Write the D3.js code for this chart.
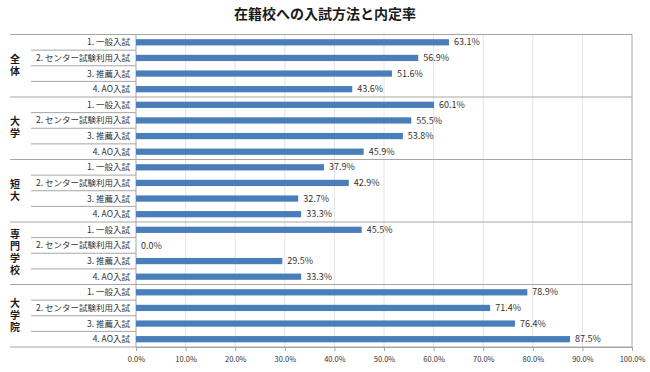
<!DOCTYPE html>
<html>
<head>
<meta charset="utf-8">
<script src="https://cdn.jsdelivr.net/npm/d3@7"></script>
<style>
  body { margin: 0; background: #fff; }
  svg text { font-family: "Noto Sans CJK JP", "Noto Sans", sans-serif; }
</style>
</head>
<body>
<div id="chart"></div>
<script>
// グループ（在籍校）と入試方法
const groups = ["全体", "大学", "短大", "専門学校", "大学院"];
const methods = ["1. 一般入試", "2. センター試験利用入試", "3. 推薦入試", "4. AO入試"];

// 内定率 (%)
const rateAll      = [63.1, 56.9, 51.6, 43.6];
const rateUniv     = [60.1, 55.5, 53.8, 45.9];
const rateJunior   = [37.9, 42.9, 32.7, 33.3];
const rateVocation = [45.5, 0.0, 29.5, 33.3];
const rateGrad     = [78.9, 71.4, 76.4, 87.5];

const xTicks = [0, 10, 20, 30, 40, 50, 60, 70, 80, 90, 100];

const seriesByGroup = [rateAll, rateUniv, rateJunior, rateVocation, rateGrad];

// 行データ
const rows = [];
groups.forEach((g, gi) => {
    methods.forEach((m, mi) => {
        rows.push({ key: g + "|" + m, group: g, method: m, value: seriesByGroup[gi][mi], gi: gi, mi: mi });
    });
});

const W = 650, H = 372;
const margin = { top: 34.5, right: 18, bottom: 25, left: 136 };
const width = W - margin.left - margin.right;
const height = H - margin.top - margin.bottom;

const svg = d3.select("#chart").append("svg")
    .attr("width", W)
    .attr("height", H);

// タイトル
svg.append("text")
    .attr("x", 325)
    .attr("y", 19)
    .attr("text-anchor", "middle")
    .attr("font-size", 14)
    .attr("font-weight", "bold")
    .attr("fill", "#1a1a1a")
    .text("在籍校への入試方法と内定率");

const g = svg.append("g")
    .attr("transform", "translate(" + margin.left + "," + margin.top + ")");

const x = d3.scaleLinear().domain([0, 100]).range([0, width]);
const y = d3.scaleBand()
    .domain(rows.map(d => d.key))
    .range([0, height])
    .paddingInner(0.6)
    .paddingOuter(0.3);
const step = y.step();

// グリッド線
g.selectAll(".grid")
    .data(xTicks.slice(1, -1))
    .join("line")
    .attr("class", "grid")
    .attr("x1", d => x(d)).attr("x2", d => x(d))
    .attr("y1", 0).attr("y2", height)
    .attr("stroke", "#e4e4e4")
    .attr("stroke-width", 1);

// グループ内の区切り線（ラベル領域）
g.selectAll(".subSep")
    .data(rows.filter(d => d.mi > 0))
    .join("line")
    .attr("class", "subSep")
    .attr("x1", 31 - margin.left).attr("x2", 0)
    .attr("y1", d => y(d.key) - (step - y.bandwidth()) / 2)
    .attr("y2", d => y(d.key) - (step - y.bandwidth()) / 2)
    .attr("stroke", "#a6a6a6");

// グループ境界線
const groupEdges = d3.range(groups.length + 1).map(i => i * 4 * step);
g.selectAll(".grpSep")
    .data(groupEdges)
    .join("line")
    .attr("class", "grpSep")
    .attr("x1", 10 - margin.left).attr("x2", width)
    .attr("y1", d => d).attr("y2", d => d)
    .attr("stroke", "#a6a6a6");

// 右枠・軸線
g.append("line")
    .attr("x1", width).attr("x2", width)
    .attr("y1", 0).attr("y2", height)
    .attr("stroke", "#a6a6a6");
g.append("line")
    .attr("x1", 0).attr("x2", 0)
    .attr("y1", 0).attr("y2", height)
    .attr("stroke", "#a6a6a6");

// 棒
g.selectAll(".bar")
    .data(rows)
    .join("rect")
    .attr("class", "bar")
    .attr("x", 0)
    .attr("y", d => y(d.key))
    .attr("width", d => x(d.value))
    .attr("height", y.bandwidth())
    .attr("fill", "#4a7ebb");

// 値ラベル
g.selectAll(".val")
    .data(rows)
    .join("text")
    .attr("class", "val")
    .attr("x", d => x(d.value) + 5)
    .attr("y", d => y(d.key) + y.bandwidth() / 2)
    .attr("dy", "0.35em")
    .attr("font-size", 9)
    .attr("fill", "#333")
    .text(d => d.value.toFixed(1) + "%");

// 入試方法ラベル
g.selectAll(".cat")
    .data(rows)
    .join("text")
    .attr("class", "cat")
    .attr("x", -6)
    .attr("y", d => y(d.key) + y.bandwidth() / 2)
    .attr("dy", "0.35em")
    .attr("text-anchor", "end")
    .attr("font-size", 8.5)
    .attr("fill", "#333")
    .text(d => d.method);

// グループラベル（縦書き）
g.selectAll(".grpLabel")
    .data(groups)
    .join("text")
    .attr("class", "grpLabel")
    .attr("x", 15 - margin.left)
    .attr("y", (d, gi) => (gi * 4 + 2) * step)
    .attr("text-anchor", "middle")
    .style("writing-mode", "vertical-rl")
    .style("letter-spacing", "2px")
    .attr("font-size", 10)
    .attr("font-weight", "bold")
    .attr("fill", "#1a1a1a")
    .text(d => d);

// X軸
const xAxis = g.append("g")
    .attr("transform", "translate(0," + height + ")")
    .call(d3.axisBottom(x).tickValues(xTicks).tickSize(4).tickFormat(d => d.toFixed(1) + "%"));
xAxis.select(".domain").attr("stroke", "#a6a6a6");
xAxis.selectAll(".tick line").attr("stroke", "#a6a6a6");
xAxis.selectAll(".tick text")
    .attr("font-size", 7.5)
    .attr("fill", "#333")
    .attr("dy", "1.1em");
</script>
</body>
</html>
